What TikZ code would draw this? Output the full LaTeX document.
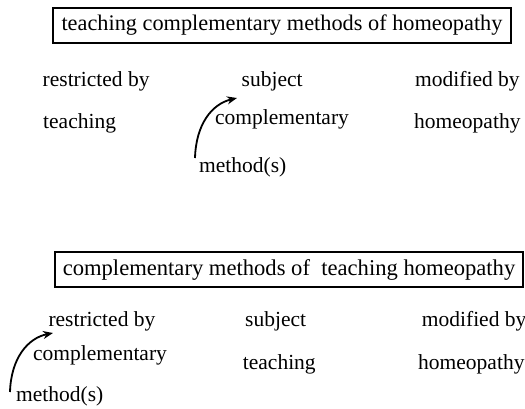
\documentclass[tikz,border=0pt]{standalone}
\usepackage{fontspec}
\setmainfont{Liberation Serif}
\usetikzlibrary{arrows.meta}
\tikzset{
  lbl/.style={inner sep=0pt, anchor=base west, font=\fontsize{21.5}{25}\selectfont},
  titlebox/.style={draw, line width=1.4pt, inner sep=0pt, minimum height=35pt},
  curvearrow/.style={line width=1.8pt, -{Stealth[length=10pt,width=8pt]}}
}
\begin{document}
\begin{tikzpicture}[x=1pt,y=-1pt]
\useasboundingbox (0,0) rectangle (525,408);
% top block
\node[titlebox, minimum width=458pt, font=\fontsize{22.3}{26}\selectfont] (t1) at (282,25.5) {teaching complementary methods of homeopathy};
\node[lbl] (r1) at (42.5,86) {restricted by};
\node[lbl] (s1) at (241.5,86) {subject};
\node[lbl] (m1) at (415,86) {modified by};
\node[lbl] (te1) at (43,128) {teaching};
\node[lbl] (c1) at (215,124) {complementary};
\node[lbl] (h1) at (414,128) {homeopathy};
\node[lbl] (me1) at (199,172) {method(s)};
\coordinate (a1s) at (195,158);
\coordinate (a1e) at (237,98);
\draw[curvearrow] (a1s) .. controls (196,124) and (212,104) .. (a1e);
% bottom block
\node[titlebox, minimum width=468pt, font=\fontsize{22.6}{26}\selectfont] (t2) at (289,269.5) {complementary methods of\ \ teaching homeopathy};
\node[lbl] (r2) at (48.3,326) {restricted by};
\node[lbl] (s2) at (245,326) {subject};
\node[lbl] (m2) at (421.7,326) {modified by};
\node[lbl] (c2) at (33,360) {complementary};
\node[lbl] (te2) at (242.7,369) {teaching};
\node[lbl] (h2) at (418,369) {homeopathy};
\node[lbl] (me2) at (16,401) {method(s)};
\coordinate (a2s) at (10,392);
\coordinate (a2e) at (53,333);
\draw[curvearrow] (a2s) .. controls (11,358) and (28,338) .. (a2e);
\end{tikzpicture}
\end{document}
